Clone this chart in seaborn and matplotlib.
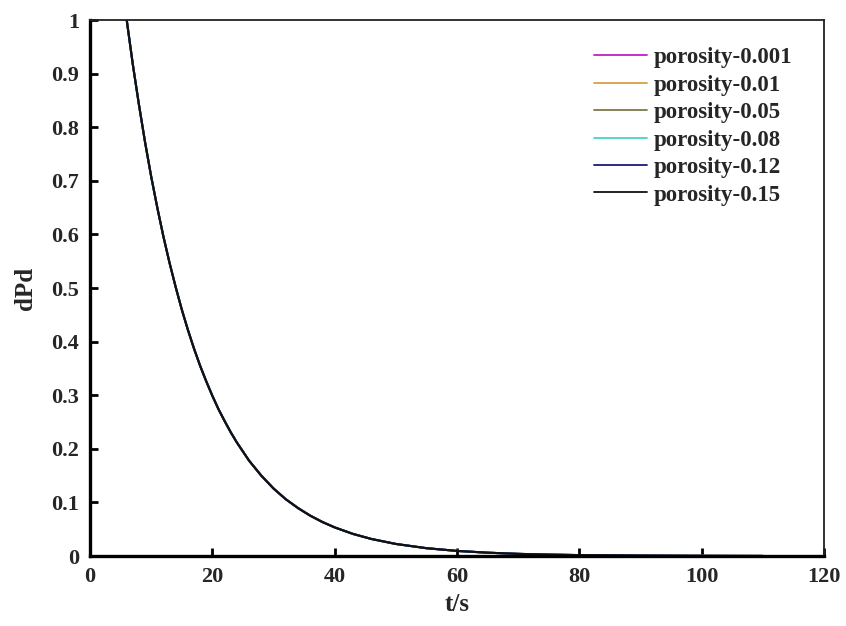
import numpy as np
import pandas as pd
import matplotlib
matplotlib.use("Agg")
import matplotlib.pyplot as plt
import seaborn as sns

# Dimensionless pressure drop dPd versus time for several porosities
t_values = [5.5, 6, 7, 8, 9, 10, 11, 12, 13, 14, 15, 16, 17, 18, 19, 20,
            21, 22, 23, 24, 25, 26, 28, 30, 32, 34, 36, 38, 40, 43, 46, 50,
            55, 60, 65, 70, 75, 80, 90, 100, 110]
dpd_values = [1.044, 1.0, 0.917, 0.842, 0.772, 0.708, 0.650, 0.596, 0.547,
              0.502, 0.460, 0.422, 0.387, 0.355, 0.326, 0.299, 0.274, 0.252,
              0.231, 0.212, 0.195, 0.178, 0.150, 0.126, 0.106, 0.0895,
              0.0753, 0.0634, 0.0534, 0.0412, 0.0318, 0.0225, 0.0146,
              0.0095, 0.0062, 0.0040, 0.0026, 0.0017, 0.0007, 0.0003, 0.0001]

series_names = ["porosity-0.001", "porosity-0.01", "porosity-0.05",
                "porosity-0.08", "porosity-0.12", "porosity-0.15"]
series_colors = ["#c21fc2", "#d9a04a", "#7d7a45", "#45d6c4", "#1a1a7a", "#111111"]

x_ticks = [0, 20, 40, 60, 80, 100, 120]
y_ticks = [0, 0.1, 0.2, 0.3, 0.4, 0.5, 0.6, 0.7, 0.8, 0.9, 1]
y_tick_labels = ["0", "0.1", "0.2", "0.3", "0.4", "0.5", "0.6", "0.7", "0.8", "0.9", "1"]

frames = [pd.DataFrame({"t": t_values, "dPd": dpd_values, "series": name})
          for name in series_names]
df = pd.concat(frames, ignore_index=True)

sns.set_theme(style="white")
plt.rcParams["font.family"] = ["Liberation Serif", "DejaVu Serif"]
plt.rcParams["font.weight"] = "bold"

fig = plt.figure(figsize=(8.46, 6.26), dpi=100)
ax = fig.add_axes([0.1064, 0.1118, 0.8676, 0.8562])

sns.lineplot(data=df, x="t", y="dPd", hue="series", hue_order=series_names,
             palette=series_colors, linewidth=1.5, ax=ax, legend=True)

ax.set_xlim(0, 120)
ax.set_ylim(0, 1)
ax.set_xticks(x_ticks)
ax.set_xticklabels([str(v) for v in x_ticks], fontsize=16, fontweight="bold")
ax.set_yticks(y_ticks)
ax.set_yticklabels(y_tick_labels, fontsize=16, fontweight="bold")
ax.set_xlabel("t/s", fontsize=18, fontweight="bold", labelpad=4)
ax.set_ylabel("dPd", fontsize=18, fontweight="bold", labelpad=10)

ax.tick_params(axis="both", direction="in", length=6, width=2, color="black",
               bottom=True, left=True, top=False, right=False, pad=8)
for side in ["left", "bottom"]:
    ax.spines[side].set_linewidth(2.4)
    ax.spines[side].set_color("black")
for side in ["top", "right"]:
    ax.spines[side].set_linewidth(1.3)
    ax.spines[side].set_color("#222222")

handles, labels = ax.get_legend_handles_labels()
leg = ax.legend(handles, labels, loc="upper right", bbox_to_anchor=(0.975, 0.975),
                frameon=False, handlelength=2.3, handletextpad=0.3,
                labelspacing=0.28, borderaxespad=0.2,
                prop={"weight": "bold", "size": 16.5})
for line in leg.get_lines():
    line.set_linewidth(1.3)

fig.savefig("out.png", dpi=100, facecolor="white")
